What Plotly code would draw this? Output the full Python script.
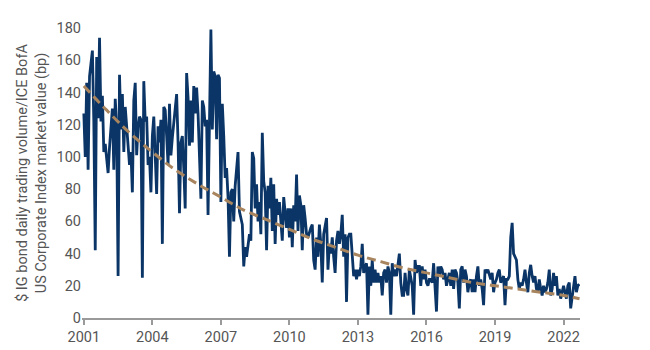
import plotly.graph_objects as go

# Series values: 16 readings per year (2022 partial)
years = list(range(2001, 2023))
v2001 = [127, 100, 146, 92, 150, 160, 166, 122, 42, 162, 124, 174, 122, 138, 103, 108]
v2002 = [97, 90, 106, 118, 130, 92, 136, 119, 26, 151, 117, 139, 103, 131, 119, 104]
v2003 = [95, 103, 78, 135, 146, 101, 118, 125, 123, 25, 147, 122, 125, 95, 100, 78]
v2004 = [113, 125, 95, 77, 119, 109, 123, 46, 131, 129, 113, 95, 133, 101, 112, 120]
v2005 = [129, 139, 109, 65, 109, 113, 93, 68, 152, 137, 107, 135, 109, 144, 127, 143]
v2006 = [127, 91, 74, 135, 131, 119, 123, 64, 125, 179, 117, 153, 150, 111, 151, 149]
v2007 = [72, 133, 113, 87, 93, 75, 38, 78, 80, 60, 82, 91, 103, 66, 62, 58]
v2008 = [32, 44, 38, 44, 52, 48, 103, 99, 68, 83, 60, 72, 52, 115, 85, 78]
v2009 = [42, 82, 68, 87, 54, 83, 46, 74, 64, 72, 58, 48, 75, 64, 56, 68]
v2010 = [50, 68, 44, 70, 60, 89, 54, 76, 70, 42, 70, 62, 52, 50, 54, 56]
v2011 = [58, 36, 30, 50, 38, 58, 46, 22, 52, 56, 62, 30, 46, 40, 50, 38]
v2012 = [28, 48, 54, 46, 52, 64, 38, 52, 10, 50, 52, 52, 40, 26, 30, 24]
v2013 = [30, 26, 32, 46, 28, 32, 34, 2, 32, 20, 36, 22, 30, 22, 28, 22]
v2014 = [26, 14, 28, 30, 22, 32, 28, 2, 34, 26, 30, 26, 32, 40, 22, 14]
v2015 = [14, 28, 18, 14, 30, 24, 20, 2, 36, 28, 32, 32, 20, 32, 24, 30]
v2016 = [22, 20, 24, 24, 22, 34, 18, 4, 32, 26, 32, 30, 24, 28, 20, 24]
v2017 = [28, 20, 30, 18, 30, 28, 22, 6, 30, 32, 22, 30, 26, 16, 22, 24]
v2018 = [16, 24, 16, 26, 32, 20, 24, 18, 8, 30, 28, 30, 26, 24, 28, 16]
v2019 = [22, 24, 28, 30, 22, 24, 26, 8, 24, 24, 26, 50, 59, 40, 38, 36]
v2020 = [24, 18, 22, 20, 24, 30, 22, 16, 28, 33, 26, 22, 26, 18, 16, 24]
v2021 = [18, 14, 20, 16, 18, 22, 30, 14, 18, 28, 20, 26, 14, 18, 12, 16]
v2022 = [20, 16, 12, 20, 22, 6, 14, 18, 26, 16, 20, 21]
series_by_year = [v2001, v2002, v2003, v2004, v2005, v2006, v2007, v2008, v2009, v2010, v2011,
                  v2012, v2013, v2014, v2015, v2016, v2017, v2018, v2019, v2020, v2021, v2022]
per_year = 16

# Trend line values
trend_x = [2001, 2002, 2003, 2004, 2005, 2006, 2007, 2008, 2009, 2010, 2011, 2012,
           2013, 2014, 2015, 2016, 2017, 2018, 2019, 2020, 2021, 2022, 2022.7]
trend_y = [144, 129, 115, 103, 92, 83, 75, 67, 61, 55, 49, 44,
           39, 35, 31, 28, 25, 22, 20, 18, 16, 14, 12]

tick_years = [2001, 2004, 2007, 2010, 2013, 2016, 2019, 2022]
y_ticks = [0, 20, 40, 60, 80, 100, 120, 140, 160, 180]

x, y = [], []
for yr, vals in zip(years, series_by_year):
    for i, v in enumerate(vals):
        x.append(yr + i / per_year)
        y.append(v)

fig = go.Figure()
fig.add_trace(go.Scatter(x=x, y=y, mode="lines",
                         line=dict(color="#0a3566", width=2.8),
                         showlegend=False, hoverinfo="skip"))
fig.add_trace(go.Scatter(x=trend_x, y=trend_y, mode="lines",
                         line=dict(color="#a8855e", width=3, dash="9px,5px", shape="spline"),
                         showlegend=False, hoverinfo="skip"))

font_family = "Roboto, Arial, sans-serif"
txt = "#555555"
fig.update_layout(
    width=650, height=350,
    margin=dict(l=74, r=78, t=15, b=33),
    paper_bgcolor="white", plot_bgcolor="white",
    font=dict(family=font_family, size=14.5, color=txt),
    xaxis=dict(range=[2000.92, 2022.72], tickvals=tick_years,
               ticktext=[str(t) for t in tick_years],
               showgrid=False, zeroline=False,
               showline=True, linecolor="#9a9a9a", linewidth=1.5,
               ticks="outside", ticklen=5, tickcolor="#9a9a9a", tickwidth=1.5,
               tickfont=dict(size=14.5, color=txt)),
    yaxis=dict(range=[0, 180], tickvals=y_ticks,
               showgrid=False, zeroline=False, showline=False,
               ticks="", tickfont=dict(size=14.5, color=txt),
               title=dict(text="$ IG bond daily trading volume/ICE BofA<br>US Corporate Index market value (bp)",
                          font=dict(size=14.5, color=txt), standoff=6)),
)

fig.write_html("out.html")
